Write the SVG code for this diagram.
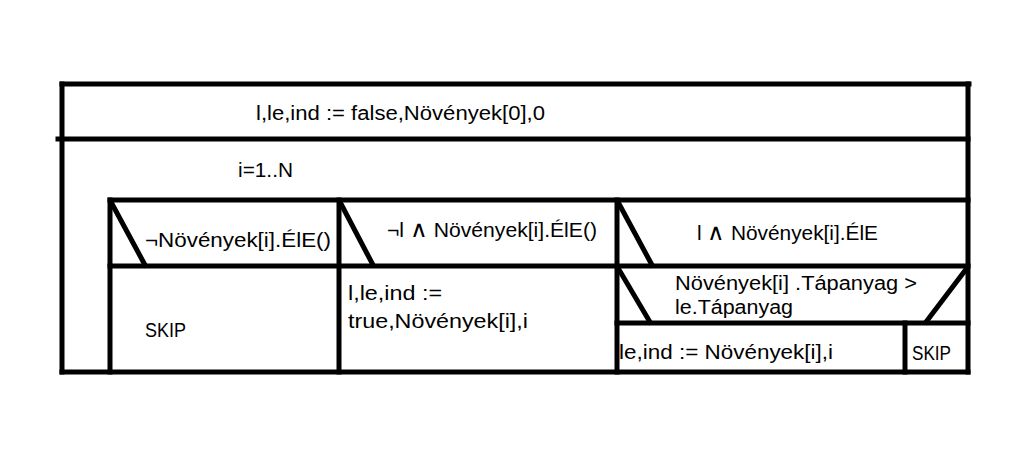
<svg xmlns="http://www.w3.org/2000/svg" width="1033" height="452" viewBox="0 0 1033 452">
  <style>
    .ln { stroke: #000; stroke-width: 5; fill: none; stroke-linecap: square; }
    .tx { font-family: "Liberation Sans", Arial, sans-serif; font-size: 20px; fill: #000; }
    .op { font-size: 23px; }
  </style>
  <rect width="1033" height="452" fill="#fff"/>

  <!-- frame lines of the structogram -->
  <g id="connectors">
    <!-- outer frame -->
    <line class="ln" x1="62" y1="84" x2="969" y2="84"/>
    <line class="ln" x1="62" y1="84" x2="62" y2="372"/>
    <line class="ln" x1="968" y1="84" x2="968" y2="372"/>
    <line class="ln" x1="62" y1="372" x2="968" y2="372"/>
    <line class="ln" x1="58" y1="139" x2="968" y2="139"/>
    <!-- loop body -->
    <line class="ln" x1="110" y1="200" x2="968" y2="200"/>
    <line class="ln" x1="110" y1="200" x2="110" y2="372"/>
    <line class="ln" x1="110" y1="266" x2="968" y2="266"/>
    <line class="ln" x1="339" y1="200" x2="339" y2="372"/>
    <line class="ln" x1="617" y1="200" x2="617" y2="372"/>
    <!-- branch diagonals -->
    <line class="ln" x1="111" y1="202" x2="145" y2="265"/>
    <line class="ln" x1="340" y1="202" x2="373" y2="265"/>
    <line class="ln" x1="618" y1="202" x2="652" y2="265"/>
    <!-- nested if -->
    <line class="ln" x1="618" y1="268" x2="650" y2="322"/>
    <line class="ln" x1="967" y1="268" x2="926" y2="322"/>
    <line class="ln" x1="617" y1="323" x2="968" y2="323"/>
    <line class="ln" x1="905" y1="323" x2="905" y2="372"/>
  </g>

  <g id="init">
    <text class="tx" x="256" y="120" textLength="289" lengthAdjust="spacingAndGlyphs">l,le,ind := false,Növények[0],0</text>
  </g>
  <g id="loop">
    <text class="tx" x="238" y="177" textLength="55" lengthAdjust="spacingAndGlyphs">i=1..N</text>
  </g>
  <g id="branch1">
    <text class="tx" x="145" y="247" textLength="186" lengthAdjust="spacingAndGlyphs">¬Növények[i].ÉlE()</text>
    <text class="tx" x="145" y="337" textLength="41" lengthAdjust="spacingAndGlyphs">SKIP</text>
  </g>
  <g id="branch2">
    <text class="tx" x="387" y="237" textLength="210" lengthAdjust="spacingAndGlyphs">¬l <tspan class="op">∧</tspan> Növények[i].ÉlE()</text>
    <text class="tx" x="348" y="300" textLength="94" lengthAdjust="spacingAndGlyphs">l,le,ind :=</text>
    <text class="tx" x="348" y="328" textLength="180" lengthAdjust="spacingAndGlyphs">true,Növények[i],i</text>
  </g>
  <g id="branch3">
    <text class="tx" x="697" y="240" textLength="181" lengthAdjust="spacingAndGlyphs">l <tspan class="op">∧</tspan> Növények[i].ÉlE</text>
    <text class="tx" x="675" y="290" textLength="242" lengthAdjust="spacingAndGlyphs">Növények[i] .Tápanyag &gt;</text>
    <text class="tx" x="675" y="314" textLength="118" lengthAdjust="spacingAndGlyphs">le.Tápanyag</text>
    <text class="tx" x="619" y="359" textLength="214" lengthAdjust="spacingAndGlyphs">le,ind := Növények[i],i</text>
    <text class="tx" x="912" y="360" textLength="39" lengthAdjust="spacingAndGlyphs">SKIP</text>
  </g>
</svg>
